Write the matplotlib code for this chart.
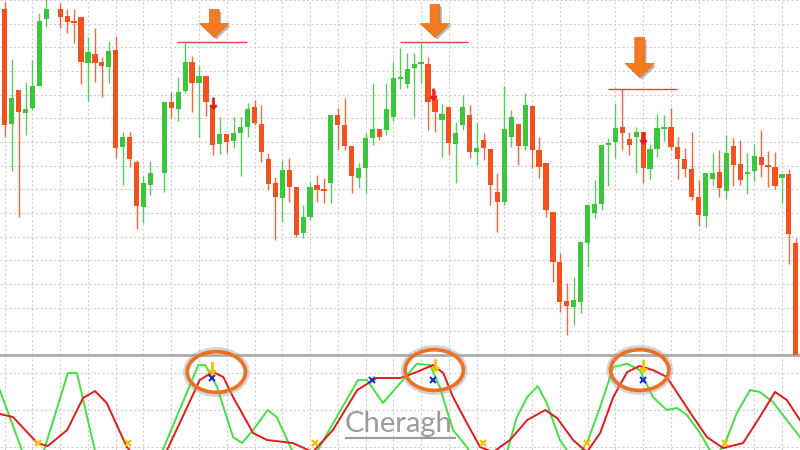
import matplotlib
matplotlib.use('Agg')
import matplotlib.pyplot as plt
import matplotlib.patheffects as pe
from matplotlib.patches import Ellipse
from matplotlib.lines import Line2D
import numpy as np

nan = np.nan

# candle data (price units), one entry per bar
opens = [346, 231, 265, 242, 247, 269, 336, nan, 346, 339, 334, 338, 292, 301, 293, 288, 305, 208, 218, 193,
         148, 170, nan, 182, 253, 246, 264, 293, 272, 279, 248, 211, 221, 214, 222, 228, 248, 231, 196, 172,
         157, 185, 168, 122, 138, 170, 166, 172, 240, 230, 209, 177, 187, 217, 226, 225, 238, 276, 271, 287,
         291, 291, 256, 235, 248, 211, 230, 240, 203, 215, 206, 163, 153, 218, 231, 209, 249, 205, 192, 143,
         93, 54, 48, 53, 112, 142, 151, 210, 213, 228, 216, 218, 223, 186, 206, 226, 228, 208, 196, 186,
         158, 139, 176, 183, 164, 209, 191, 181, 184, 198, 190, 188, 177, 181, 112]
highs = [353, 296, 265, 273, 295, 342, 358, nan, 352, 346, 346, 338, 318, 327, 298, 314, 319, 223, 223, 195,
         179, 194, nan, 253, 263, 278, 312, 299, 289, 279, 255, 238, 221, 238, 238, 252, 255, 250, 202, 178,
         195, 197, 168, 150, 173, 180, 177, 240, 247, 257, 209, 192, 222, 272, 226, 272, 293, 307, 302, 302,
         312, 298, 265, 251, 248, 233, 260, 250, 232, 222, 206, 182, 269, 245, 231, 262, 249, 218, 192, 143,
         102, 72, 78, 113, 150, 175, 210, 217, 252, 266, 223, 228, 223, 211, 241, 240, 247, 218, 207, 223,
         175, 182, 202, 205, 220, 217, 215, 202, 211, 225, 204, 203, 181, 186, 117]
lows = [218, 184, 138, 220, 245, 269, 328, nan, 327, 322, 312, 271, 254, 273, 258, 272, 197, 170, 188, 126,
        132, 160, nan, 163, 237, 234, 262, 243, 218, 239, 200, 201, 202, 207, 179, 218, 230, 193, 165, 115,
        133, 153, 118, 117, 135, 153, 152, 152, 205, 205, 162, 167, 162, 210, 215, 220, 234, 266, 267, 238,
        272, 225, 223, 198, 200, 172, 225, 197, 190, 195, 150, 123, 150, 208, 190, 205, 187, 177, 138, 73,
        43, 20, 30, 42, 88, 137, 145, 169, 197, 205, 200, 182, 172, 176, 198, 214, 205, 176, 178, 155,
        129, 128, 170, 158, 156, 169, 170, 161, 174, 178, 168, 166, 152, 91, -10]
closes = [230, 257, 243, 246, 269, 334, 346, nan, 338, 333, 332, 293, 303, 292, 289, 304, 207, 218, 196, 149,
          172, 182, nan, 253, 247, 263, 293, 272, 279, 253, 210, 221, 213, 222, 228, 246, 232, 203, 171, 158,
          185, 168, 120, 138, 168, 165, 164, 240, 230, 209, 179, 187, 217, 226, 218, 246, 277, 278, 286, 291,
          293, 253, 243, 241, 212, 222, 248, 203, 207, 207, 170, 153, 226, 238, 209, 250, 205, 188, 145, 93,
          53, 49, 55, 113, 150, 151, 210, 212, 227, 222, 210, 223, 187, 206, 227, 228, 208, 196, 186, 158,
          140, 182, 182, 167, 202, 190, 175, 183, 199, 190, 188, 169, 181, 121, -7]

# resistance lines and sell signals
res_start = [24.8, 56.9, 86.9]
res_end = [34.9, 66.8, 96.9]
res_level = [313, 313, 266]
big_arrow_x = [30.2, 62.0, 91.5]
big_arrow_top = [346, 351, 318]
big_arrow_tip = [318, 318, 278]
sig_x = [30.0, 61.7, 92.0]
sig_y = [252, 261, 217]

# oscillator (bar-index positions, 0-100 scale)
fast_x = [-0.7, 2.8, 5.4, 9.1, 10.4, 13.2, 22.4, 27.9, 28.9, 30.6, 32.9, 34.2, 35.8, 37.9, 39.2, 41.8, 44.6,
          50.9, 52.2, 54.5, 57.0, 59.4, 61.3, 62.7, 64.6, 66.6, 67.3, 72.2, 73.8, 75.3, 76.8, 78.1, 80.0,
          81.6, 82.9, 83.9, 85.8, 87.7, 89.7, 91.5, 93.4, 95.4, 96.9, 98.3, 100.2, 101.6, 102.5, 103.8,
          105.5, 107.4, 108.8, 110.7, 112.7, 114.6]
fast = [71.6, 0, 0, 90, 90, 0, 0, 98.6, 98.6, 74.9, 20.8, 14.3, 28.4, 50, 42.4, 0, 0, 82.4, 82.4, 57.6,
        79.2, 100, 98.6, 74.9, 28.4, 10, 0, 0, 42.4, 64.1, 75.9, 57.6, 17.6, 0, 4.6, 14.3, 53.2, 96.5, 100,
        93.2, 64.1, 50, 52.2, 44.6, 25.1, 6.8, 0, 14.3, 46.8, 71.6, 69.5, 58.6, 39.2, 20.8]
slow_x = [-0.7, 1.2, 4.7, 6.2, 9.0, 11.3, 13.0, 14.7, 17.6, 18.8, 22.8, 23.4, 26.3, 28.1, 30.0, 31.5, 32.9,
          35.8, 37.8, 41.5, 44.4, 47.3, 50.8, 53.6, 57.0, 59.4, 61.7, 63.2, 64.6, 66.6, 68.5, 70.4, 72.8,
          75.3, 77.9, 79.6, 81.9, 83.9, 85.8, 87.7, 89.7, 91.5, 93.4, 95.4, 97.3, 99.2, 101.2, 103.5, 106.4,
          108.8, 111.0, 112.7, 114.6]
slow = [45.7, 42.4, 14.3, 11.1, 28.4, 63.0, 70.5, 57.6, 10, 0, 0, 6.8, 53.2, 82.4, 91.1, 85.7, 64.1, 25.1,
        17.6, 14.3, 4.6, 28.4, 71.6, 84.6, 84.6, 91.1, 98.6, 90, 64.1, 35.9, 10, 4.6, 17.6, 39.2, 50, 41.3,
        17.6, 4.6, 25.1, 64.1, 91.1, 97.6, 93.2, 85.7, 64.1, 42.4, 20.8, 8.9, 14.3, 42.4, 69.5, 60.8, 39.2]
cross_up_x = [4.8, 17.8, 44.7, 68.9, 83.9, 103.8]
cross_up_v = [14.3, 14.3, 14.3, 14.3, 14.3, 14.3]
peak_x = [29.9, 62.0, 92.0]
peak_v = [95.4, 98.6, 97.6]
blue_x = [29.9, 52.9, 61.7, 92.0]
blue_v = [84.6, 82.4, 82.4, 82.4]
circle_x = [30.5, 61.9, 91.5]
circle_v = [91.1, 93.2, 93.2]

GREEN = '#3CC63C'
RED = '#F4511E'
GRID = '#CFCFCF'

fig = plt.figure(figsize=(8, 4.5), dpi=100)
ax = fig.add_axes([0, 95 / 450, 1, 355 / 450])
ax2 = fig.add_axes([0, 0, 1, 93 / 450])

xlim = (-0.677, 114.6)
for a in (ax, ax2):
    a.set_xlim(*xlim)
    a.set_xticks(np.arange(0, 115, 4))
    a.grid(True, color=GRID, linestyle=(0, (2, 2)), linewidth=0.8)
    a.tick_params(left=False, bottom=False, labelleft=False, labelbottom=False)
    a.set_axisbelow(True)
    for s in a.spines.values():
        s.set_visible(False)

# main price panel
ax.set_ylim(0, 355)
ax.set_yticks(np.arange(0, 356, 23.7))
ax.spines['bottom'].set_visible(True)
ax.spines['bottom'].set_color('#ABABAB')
ax.spines['bottom'].set_linewidth(2)

o = np.array(opens, float)
h = np.array(highs, float)
l = np.array(lows, float)
c = np.array(closes, float)
idx = np.arange(len(o))
ok = ~np.isnan(o)
cols = np.where(c >= o, GREEN, RED)
ax.vlines(idx[ok], l[ok], h[ok], colors=cols[ok], lw=1, alpha=0.85, zorder=2)
body_lo = np.minimum(o, c)
body_h = np.maximum(np.abs(c - o), 1.8)
ax.bar(idx[ok], body_h[ok], bottom=body_lo[ok], width=0.75, color=cols[ok], linewidth=0, zorder=3)

ax.hlines(res_level, res_start, res_end, colors='#E8403A', lw=1, zorder=4)
ax.scatter(sig_x, sig_y, marker=r'$\downarrow$', s=60, color='#E02020', zorder=5)

for x, y0, y1 in zip(big_arrow_x, big_arrow_top, big_arrow_tip):
    ann = ax.annotate('', xy=(x, y1), xytext=(x, y0),
                      arrowprops=dict(arrowstyle='simple,head_length=1.0,head_width=2.1,tail_width=0.7',
                                      mutation_scale=10, fc='#F47A20', ec='#E06A15', lw=0.5,
                                      shrinkA=0, shrinkB=0), zorder=6)
    ann.arrow_patch.set_path_effects([pe.SimplePatchShadow(offset=(1.5, -1.5), shadow_rgbFace='#888888',
                                                           alpha=0.6), pe.Normal()])

# oscillator panel
ax2.set_ylim(6.8, 107.3)
ax2.set_yticks([10, 50, 90])
ax2.plot(fast_x, fast, color='#45E045', lw=1.4, zorder=3, solid_joinstyle='round')
ax2.plot(slow_x, slow, color='#E01B1B', lw=1.4, zorder=3, solid_joinstyle='round')
ax2.plot(cross_up_x, cross_up_v, 'x', color='#F2C200', ms=4, mew=1.5, zorder=4)
ax2.plot(blue_x, blue_v, 'x', color='#1A2FD0', ms=4, mew=1.5, zorder=4)
ax2.scatter(peak_x, peak_v, marker=r'$\downarrow$', s=70, color='#F2C200', zorder=4)

for x, v in zip(circle_x, circle_v):
    shadow = Ellipse((x, v), width=8.7, height=47, fill=False, ec='#A0A0A0', lw=4.5, alpha=0.45,
                     clip_on=False, zorder=9)
    ax2.add_patch(shadow)
    e = Ellipse((x, v), width=8.4, height=44, fill=False, ec='#F07020', lw=2.6, clip_on=False, zorder=10)
    ax2.add_patch(e)

# watermark
fig.text(345 / 800, 1 - 432 / 450, 'Cheragh', fontsize=21, color='#8A8A8A', family='Lato',
         va='baseline', alpha=0.85)
fig.add_artist(Line2D([346 / 800, 455 / 800], [1 - 438 / 450] * 2, color='#8A8A8A', lw=1.5, alpha=0.85))

fig.savefig('out.png', dpi=100, facecolor='white')
